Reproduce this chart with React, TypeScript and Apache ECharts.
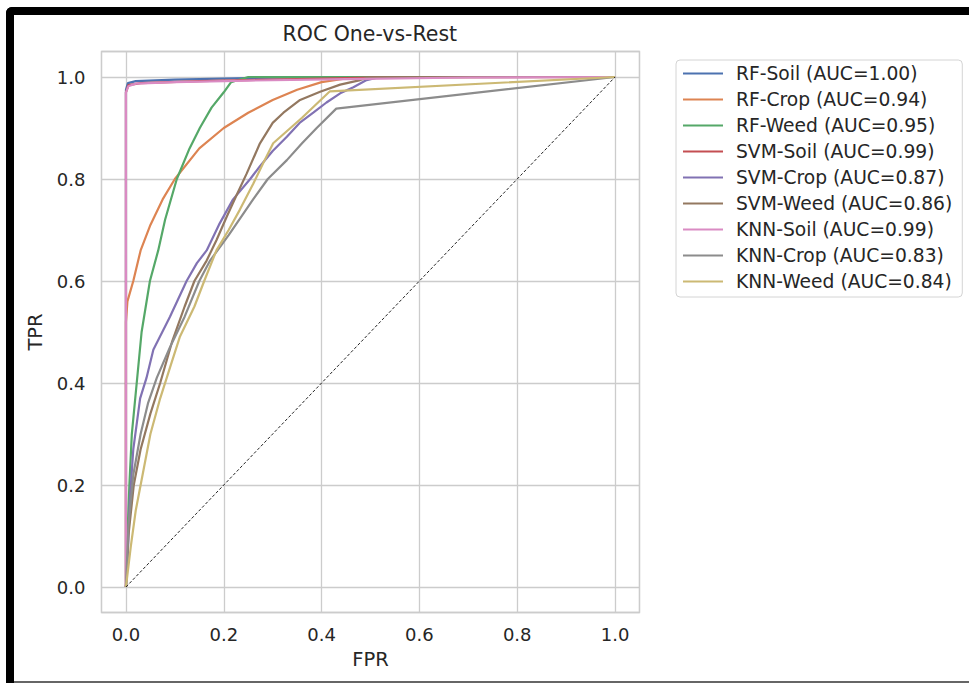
import React, { useEffect, useRef } from "react";
import * as echarts from "echarts";

const seriesNames = [
  "RF-Soil (AUC=1.00)",
  "RF-Crop (AUC=0.94)",
  "RF-Weed (AUC=0.95)",
  "SVM-Soil (AUC=0.99)",
  "SVM-Crop (AUC=0.87)",
  "SVM-Weed (AUC=0.86)",
  "KNN-Soil (AUC=0.99)",
  "KNN-Crop (AUC=0.83)",
  "KNN-Weed (AUC=0.84)",
];

const colors = ["#4C72B0", "#DD8452", "#55A868", "#C44E52", "#8172B3", "#937860", "#DA8BC3", "#8C8C8C", "#CCB974"];

const rfSoil = [[0, 0], [0, 0.975], [0.004, 0.988], [0.02, 0.992], [0.1, 0.995], [0.25, 0.998], [0.4, 1], [1, 1]];
const rfCrop = [[0, 0], [0, 0.52], [0.003, 0.56], [0.015, 0.6], [0.03, 0.66], [0.05, 0.71], [0.075, 0.76], [0.1, 0.8], [0.15, 0.86], [0.2, 0.9], [0.25, 0.93], [0.3, 0.955], [0.35, 0.975], [0.4, 0.99], [0.45, 0.997], [0.6, 1], [1, 1]];
const rfWeed = [[0, 0], [0.003, 0.1], [0.007, 0.2], [0.012, 0.3], [0.022, 0.4], [0.032, 0.5], [0.049, 0.6], [0.066, 0.66], [0.08, 0.72], [0.104, 0.8], [0.13, 0.86], [0.151, 0.9], [0.175, 0.94], [0.2, 0.97], [0.215, 0.99], [0.25, 1.0], [1, 1]];
const svmSoil = [[0, 0], [0, 0.97], [0.005, 0.984], [0.03, 0.988], [0.15, 0.992], [0.3, 0.995], [0.5, 0.999], [1, 1]];
const svmCrop = [[0, 0], [0.004, 0.07], [0.008, 0.17], [0.015, 0.27], [0.029, 0.37], [0.042, 0.41], [0.056, 0.465], [0.09, 0.53], [0.124, 0.6], [0.145, 0.635], [0.165, 0.66], [0.19, 0.71], [0.219, 0.76], [0.254, 0.8], [0.274, 0.825], [0.3, 0.855], [0.329, 0.883], [0.355, 0.91], [0.383, 0.93], [0.41, 0.95], [0.438, 0.968], [0.465, 0.98], [0.492, 0.994], [0.52, 1], [1, 1]];
const svmWeed = [[0, 0], [0.005, 0.1], [0.016, 0.2], [0.03, 0.27], [0.05, 0.34], [0.07, 0.4], [0.094, 0.48], [0.12, 0.55], [0.14, 0.6], [0.165, 0.64], [0.185, 0.68], [0.206, 0.726], [0.227, 0.77], [0.247, 0.811], [0.274, 0.87], [0.3, 0.91], [0.322, 0.93], [0.356, 0.955], [0.397, 0.971], [0.438, 0.985], [0.479, 0.994], [0.5, 1], [1, 1]];
const knnSoil = [[0, 0], [0, 0.97], [0.005, 0.982], [0.02, 0.987], [0.1, 0.99], [0.25, 0.993], [0.45, 0.996], [0.7, 0.999], [1, 1]];
const knnCrop = [[0, 0], [0.005, 0.12], [0.015, 0.22], [0.03, 0.3], [0.045, 0.36], [0.063, 0.41], [0.09, 0.47], [0.12, 0.53], [0.15, 0.6], [0.172, 0.64], [0.21, 0.69], [0.26, 0.76], [0.29, 0.8], [0.329, 0.837], [0.36, 0.87], [0.39, 0.9], [0.43, 0.938], [1, 1]];
const knnWeed = [[0, 0], [0.01, 0.08], [0.02, 0.15], [0.03, 0.2], [0.05, 0.3], [0.07, 0.37], [0.09, 0.43], [0.11, 0.49], [0.14, 0.55], [0.16, 0.6], [0.185, 0.66], [0.21, 0.7], [0.233, 0.74], [0.26, 0.79], [0.28, 0.83], [0.301, 0.87], [0.36, 0.92], [0.417, 0.972], [1, 1]];
const chanceLine = [[0, 0], [1, 1]];

const allData = [rfSoil, rfCrop, rfWeed, svmSoil, svmCrop, svmWeed, knnSoil, knnCrop, knnWeed];

const FONT = "DejaVu Sans";
const TXT = "#262626";

export default function App() {
  const ref = useRef<HTMLDivElement>(null);
  useEffect(() => {
    if (!ref.current) return;
    const chart = echarts.init(ref.current, null, { renderer: "svg" });
    const fmt = (v: number) => {
      const r = Math.round(v * 5);
      if (Math.abs(v * 5 - r) > 1e-6) return "";
      return (r / 5).toFixed(1);
    };
    const series: any[] = allData.map((d, i) => ({
      name: seriesNames[i],
      type: "line",
      data: d,
      showSymbol: false,
      symbol: "none",
      lineStyle: { color: colors[i], width: 2.2 },
      itemStyle: { color: colors[i] },
      emphasis: { disabled: true },
    }));
    series.push({
      name: "chance",
      type: "line",
      data: chanceLine,
      symbol: "none",
      lineStyle: { color: "#222", width: 1, type: [3, 2] },
      emphasis: { disabled: true },
    });
    chart.setOption({
      animation: false,
      backgroundColor: "#ffffff",
      textStyle: { fontFamily: FONT },
      grid: { left: 101.5, right: 329.5, top: 51.5, bottom: 70.5, show: true, borderColor: "#cccccc", borderWidth: 1.3 },
      xAxis: {
        type: "value",
        min: -0.05,
        max: 1.05,
        splitNumber: 5,
        name: "FPR",
        nameLocation: "middle",
        nameGap: 37,
        nameTextStyle: { fontSize: 19.5, color: TXT, fontFamily: FONT },
        axisLine: { show: false },
        axisTick: { show: false },
        axisLabel: { formatter: fmt, fontSize: 18, color: TXT, fontFamily: FONT, margin: 13, showMinLabel: false, showMaxLabel: false },
        splitLine: { show: true, lineStyle: { color: "#cccccc", width: 1.3 } },
      },
      yAxis: {
        type: "value",
        min: -0.05,
        max: 1.05,
        splitNumber: 5,
        name: "TPR",
        nameLocation: "middle",
        nameGap: 56,
        nameTextStyle: { fontSize: 19.5, color: TXT, fontFamily: FONT },
        axisLine: { show: false },
        axisTick: { show: false },
        axisLabel: { formatter: fmt, fontSize: 18, color: TXT, fontFamily: FONT, margin: 16, showMinLabel: false, showMaxLabel: false },
        splitLine: { show: true, lineStyle: { color: "#cccccc", width: 1.3 } },
      },
      legend: {
        data: seriesNames,
        orient: "vertical",
        left: 676,
        top: 60,
        icon: "rect",
        itemWidth: 40,
        itemHeight: 2.2,
        itemGap: 5,
        padding: [3, 10, 5, 7],
        borderColor: "#d4d4d4",
        borderWidth: 1,
        borderRadius: 4,
        backgroundColor: "#ffffff",
        textStyle: { fontSize: 18.7, color: TXT, fontFamily: FONT, lineHeight: 21, padding: [0, 0, 0, 8] },
        selectedMode: false,
      },
      graphic: [
        { type: "text", left: 370.5 - 88, top: 23, style: { text: "ROC One-vs-Rest", font: `20.5px '${FONT}'`, fill: TXT } },
        { type: "rect", shape: { x: 6, y: 7, width: 980, height: 8, r: [6, 0, 0, 0] }, style: { fill: "#000" } },
        { type: "rect", shape: { x: 6, y: 7, width: 8, height: 680, r: [6, 0, 0, 0] }, style: { fill: "#000" } },
        { type: "rect", shape: { x: 14, y: 681, width: 960, height: 2 }, style: { fill: "#666" } },
      ],
      series,
    });
    return () => chart.dispose();
  }, []);
  return (
    <div
      ref={ref}
      style={{ position: "fixed", left: 0, top: 0, width: 969, height: 683, background: "#fff" }}
    />
  );
}
